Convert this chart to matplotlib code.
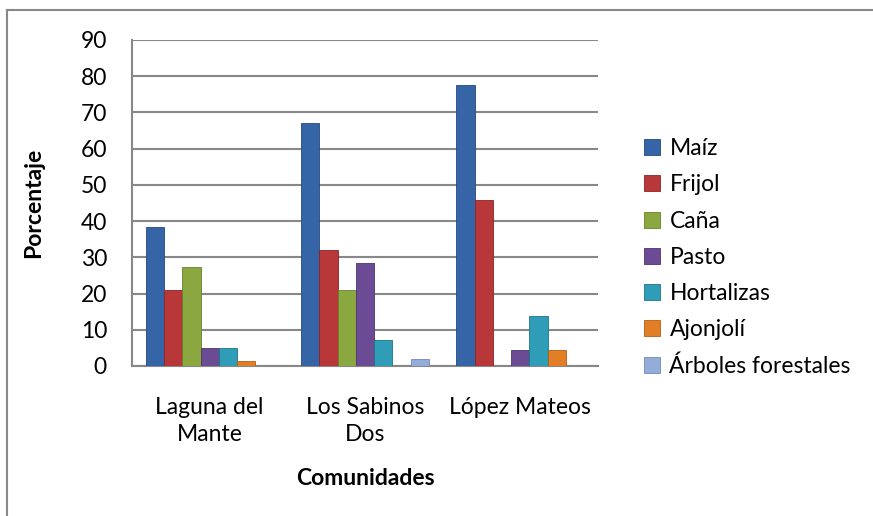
import numpy as np
import matplotlib.pyplot as plt
from matplotlib.lines import Line2D

comunidades = ['Laguna del\nMante', 'Los Sabinos\nDos', 'López Mateos']
cultivos = ['Maíz', 'Frijol', 'Caña', 'Pasto', 'Hortalizas', 'Ajonjolí', 'Árboles forestales']

maiz = [38.4, 67.0, 77.5]
frijol = [21.1, 32.0, 45.7]
cana = [27.4, 21.1, 0]
pasto = [5.0, 28.3, 4.5]
hortalizas = [5.0, 7.3, 13.7]
ajonjoli = [1.4, 0, 4.5]
arboles = [0, 1.8, 0]

series = [maiz, frijol, cana, pasto, hortalizas, ajonjoli, arboles]
colores = ['#3565a6', '#b8383a', '#8aa83f', '#6b4b93', '#2f9db7', '#e27f26', '#93acd8']
bordes = ['#234a7e', '#8a2524', '#66802b', '#4d3470', '#1f7489', '#b05f15', '#6d88b8']

plt.rcParams['font.family'] = ['Lato', 'DejaVu Sans']
fs = 16.5

fig = plt.figure(figsize=(8.73, 5.16), dpi=100)
ax = fig.add_axes([0.1512, 0.2907, 0.5338, 0.6318])

x = np.arange(len(comunidades))
w = 1 / 8.5
for i, vals in enumerate(series):
    ax.bar(x + (i - 3) * w, vals, w, color=colores[i], edgecolor=bordes[i],
           linewidth=0.6, label=cultivos[i], zorder=3)

ax.set_xlim(-0.5, 2.5)
ax.set_ylim(0, 90)
ax.set_yticks(range(0, 91, 10))
ax.set_xticks(x)
ax.set_xticklabels(comunidades, fontsize=fs, linespacing=1.36)
ax.tick_params(axis='y', length=0, pad=18, labelsize=fs)
ax.tick_params(axis='x', length=0, pad=22)
ax.yaxis.grid(True, color='#888888', linewidth=1.5, zorder=0)
for s in ['top', 'right']:
    ax.spines[s].set_visible(False)
for s in ['left', 'bottom']:
    ax.spines[s].set_color('#888888')
    ax.spines[s].set_linewidth(1.5)

ax.set_ylabel('Porcentaje', fontsize=fs, fontweight='bold', labelpad=26)
ax.set_xlabel('Comunidades', fontsize=fs, fontweight='bold', labelpad=17)

leg = ax.legend(loc='center left', bbox_to_anchor=(1.055, 0.333), frameon=False,
                fontsize=fs, handlelength=0.7, handleheight=0.7,
                handletextpad=0.4, labelspacing=0.66)

# borde del gráfico
fig.add_artist(Line2D([7 / 873, 7 / 873], [0, 1 - 10 / 516], color='#888888', lw=1.5))
fig.add_artist(Line2D([7 / 873, 1], [1 - 10 / 516, 1 - 10 / 516], color='#888888', lw=1.5))

fig.savefig('out.png', dpi=100)
